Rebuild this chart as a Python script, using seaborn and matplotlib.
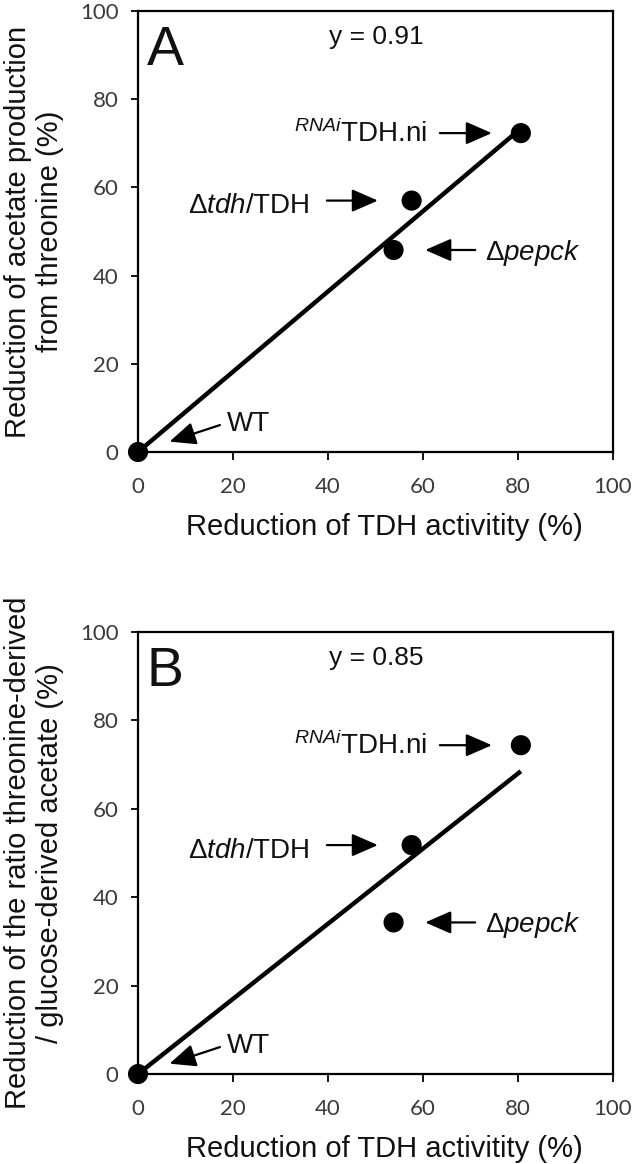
import numpy as np
import pandas as pd
import matplotlib
matplotlib.use("Agg")
import matplotlib.pyplot as plt
import seaborn as sns

# ---------------- data ----------------
strains = ["WT", "pepck", "tdh", "RNAi"]
strain_labels = ["WT", "Δ$\\it{pepck}$", "Δ$\\it{tdh}$/TDH", "$^{\\it{RNAi}}$TDH.ni"]
tdh_reduction = [0.0, 53.8, 57.6, 80.6]
acetate_reduction = [0.0, 45.8, 57.0, 72.3]
ratio_reduction = [0.0, 34.3, 51.8, 74.4]
slopes = [0.91, 0.85]
slope_texts = ["y = 0.91", "y = 0.85"]
panel_letters = ["A", "B"]
x_label = "Reduction of TDH activitity (%)"
y_labels = ["Reduction of acetate production\nfrom threonine (%)",
            "Reduction of the ratio threonine-derived\n/ glucose-derived acetate (%)"]
tick_values = [0, 20, 40, 60, 80, 100]

# ---------------- style ----------------
sns.set_theme(style="ticks")
plt.rcParams["font.family"] = ["Liberation Sans", "DejaVu Sans"]
plt.rcParams["mathtext.fontset"] = "custom"
plt.rcParams["mathtext.rm"] = "Liberation Sans"
plt.rcParams["mathtext.it"] = "Liberation Sans:italic"
plt.rcParams["mathtext.bf"] = "Liberation Sans:bold"

# annotation layout (offsets in points relative to each point)
text_offsets = {"WT": (64, 14.8, "left"), "pepck": (66, -7.0, "left"),
                "tdh": (-73.2, -9.1, "right"), "RNAi": (-67.7, -6.5, "right")}
arrow_tails = {"WT": (59, 19.4), "pepck": (58.8, 0), "tdh": (-61, 0), "RNAi": (-58.3, 0)}
arrow_gaps = {"WT": 23.9, "pepck": 22.8, "tdh": 24.3, "RNAi": 20.9}

fig = plt.figure(figsize=(6.34, 11.64), dpi=100)
axA = fig.add_axes([0.2177, 0.6117, 0.7492, 0.3789])
axB = fig.add_axes([0.2177, 0.0773, 0.7492, 0.3797])

for ax, yvals, slope, stext, letter, ylab in zip(
        [axA, axB], [acetate_reduction, ratio_reduction], slopes, slope_texts,
        panel_letters, y_labels):
    df = pd.DataFrame({"x": tdh_reduction, "y": yvals, "strain": strains})
    xfit = np.array([0.0, max(tdh_reduction)])
    sns.lineplot(x=xfit, y=slope * xfit, ax=ax, color="black", lw=3.2,
                 solid_capstyle="butt", zorder=2)
    sns.scatterplot(data=df, x="x", y="y", ax=ax, s=210, color="black",
                    edgecolor="none", clip_on=False, zorder=3, legend=False)

    ax.set_xlim(0, 100)
    ax.set_ylim(0, 100)
    ax.set_xticks(tick_values)
    ax.set_yticks(tick_values)
    ax.set_xticklabels([str(t) for t in tick_values], fontfamily="Lato",
                       fontsize=16, color="#3a3a3a")
    ax.set_yticklabels([str(t) for t in tick_values], fontfamily="Lato",
                       fontsize=16, color="#3a3a3a")
    ax.tick_params(axis="x", direction="out", length=6, width=1.3, pad=12, color="black")
    ax.tick_params(axis="y", direction="out", length=5, width=1.3, pad=9, color="black")
    for sp in ax.spines.values():
        sp.set_linewidth(1.6)
        sp.set_color("black")
        sp.set_visible(True)

    ax.set_xlabel(x_label, fontsize=21, color="#111111")
    ax.xaxis.label.set_va("center")
    ax.xaxis.set_label_coords(0.519, -0.170)
    ax.set_ylabel("")
    ax.text(-0.219, 0.5, ylab, transform=ax.transAxes, rotation=90,
            ha="center", va="center", multialignment="center",
            fontsize=21, linespacing=1.2, color="#111111")

    ax.text(0.018, 0.8776, letter, transform=ax.transAxes, ha="left",
            va="baseline", fontsize=40, color="#111111")
    ax.text(0.501, 0.925, stext, transform=ax.transAxes, ha="center",
            va="baseline", fontsize=19, color="#111111")

    for s, lab, xv, yv in zip(strains, strain_labels, tdh_reduction, yvals):
        dx, dy, ha = text_offsets[s]
        ax.annotate(lab, xy=(xv, yv), xytext=(dx, dy), textcoords="offset points",
                    ha=ha, va="baseline", fontsize=20, color="#111111")
        tx, ty = arrow_tails[s]
        ax.annotate("", xy=(xv, yv), xytext=(tx, ty), textcoords="offset points",
                    arrowprops=dict(arrowstyle="-|>,head_length=0.8,head_width=0.35",
                                    mutation_scale=20, color="black", lw=1.6,
                                    shrinkA=0, shrinkB=arrow_gaps[s]))

fig.savefig("out.png", dpi=100)
